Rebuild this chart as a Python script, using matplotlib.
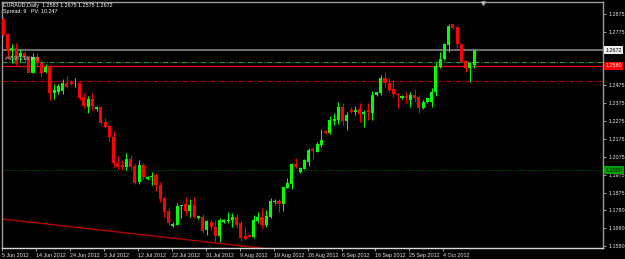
import matplotlib.pyplot as plt
import matplotlib.transforms as mtransforms

# === EURAUD Daily, Kerzen von links nach rechts ===
OPEN = [1.2847, 1.2763, 1.2673, 1.2685, 1.2640, 1.2657, 1.2636, 1.2546, 1.2636, 1.2602,
        1.2552, 1.2584, 1.2434, 1.2438, 1.2444, 1.2489, 1.2496, 1.2487, 1.2490, 1.2412,
        1.2356, 1.2399, 1.2343, 1.2354, 1.2272, 1.2248, 1.2188, 1.2042, 1.2029, 1.2017,
        1.2065, 1.2024, 1.1933, 1.2031, 1.1951, 1.1961, 1.1973, 1.1917, 1.1843, 1.1774,
        1.1690, 1.1693, 1.1800, 1.1811, 1.1774, 1.1805, 1.1733, 1.1740, 1.1665, 1.1712,
        1.1684, 1.1634, 1.1712, 1.1714, 1.1721, 1.1737, 1.1703, 1.1632, 1.1637, 1.1628,
        1.1716, 1.1740, 1.1693, 1.1740, 1.1821, 1.1830, 1.1811, 1.1902, 1.1923, 1.2035,
        1.1992, 1.2007, 1.2048, 1.2117, 1.2104, 1.2141, 1.2222, 1.2207, 1.2278, 1.2281,
        1.2352, 1.2278, 1.2337, 1.2328, 1.2341, 1.2315, 1.2337, 1.2319, 1.2421, 1.2431,
        1.2515, 1.2487, 1.2455, 1.2429, 1.2403, 1.2416, 1.2393, 1.2421, 1.2412, 1.2350,
        1.2381, 1.2381, 1.2440, 1.2580, 1.2623, 1.2701, 1.2817, 1.2802, 1.2705, 1.2612,
        1.2571, 1.2590]
HIGH = [1.2858, 1.2769, 1.2707, 1.2714, 1.2679, 1.2673, 1.2645, 1.2655, 1.2655, 1.2617,
        1.2593, 1.2589, 1.2483, 1.2483, 1.2511, 1.2528, 1.2505, 1.2517, 1.2496, 1.2434,
        1.2416, 1.2434, 1.2360, 1.2360, 1.2293, 1.2259, 1.2222, 1.2080, 1.2057, 1.2097,
        1.2085, 1.2035, 1.2057, 1.2039, 1.1968, 1.1990, 1.1985, 1.1936, 1.1852, 1.1789,
        1.1710, 1.1818, 1.1805, 1.1850, 1.1839, 1.1852, 1.1749, 1.1755, 1.1721, 1.1725,
        1.1721, 1.1733, 1.1725, 1.1766, 1.1762, 1.1755, 1.1718, 1.1688, 1.1643, 1.1749,
        1.1765, 1.1789, 1.1777, 1.1846, 1.1837, 1.1837, 1.1908, 1.1958, 1.2039, 1.2067,
        1.2017, 1.2063, 1.2123, 1.2129, 1.2160, 1.2229, 1.2225, 1.2304, 1.2322, 1.2384,
        1.2378, 1.2328, 1.2352, 1.2360, 1.2378, 1.2337, 1.2375, 1.2444, 1.2440, 1.2533,
        1.2549, 1.2515, 1.2505, 1.2431, 1.2421, 1.2440, 1.2437, 1.2455, 1.2421, 1.2393,
        1.2405, 1.2459, 1.2608, 1.2661, 1.2711, 1.2817, 1.2820, 1.2802, 1.2707, 1.2617,
        1.2608, 1.2675]
LOW = [1.2746, 1.2623, 1.2601, 1.2589, 1.2606, 1.2601, 1.2543, 1.2543, 1.2589, 1.2524,
       1.2545, 1.2393, 1.2399, 1.2427, 1.2427, 1.2461, 1.2477, 1.2468, 1.2393, 1.2349,
       1.2322, 1.2337, 1.2334, 1.2253, 1.2237, 1.2166, 1.2020, 1.2005, 1.2001, 1.2001,
       1.2001, 1.1923, 1.1923, 1.1949, 1.1945, 1.1917, 1.1886, 1.1824, 1.1737, 1.1693,
       1.1684, 1.1693, 1.1731, 1.1749, 1.1740, 1.1731, 1.1727, 1.1647, 1.1637, 1.1665,
       1.1600, 1.1600, 1.1703, 1.1703, 1.1684, 1.1677, 1.1606, 1.1609, 1.1625, 1.1619,
       1.1703, 1.1675, 1.1684, 1.1731, 1.1811, 1.1768, 1.1774, 1.1899, 1.1893, 1.2013,
       1.1986, 1.2005, 1.2024, 1.2061, 1.2101, 1.2129, 1.2203, 1.2203, 1.2253, 1.2259,
       1.2253, 1.2225, 1.2319, 1.2309, 1.2272, 1.2244, 1.2281, 1.2281, 1.2418, 1.2421,
       1.2468, 1.2440, 1.2412, 1.2347, 1.2399, 1.2375, 1.2356, 1.2384, 1.2319, 1.2343,
       1.2377, 1.2356, 1.2418, 1.2574, 1.2617, 1.2664, 1.2791, 1.2686, 1.2599, 1.2552,
       1.2496, 1.2575]
CLOSE = [1.2757, 1.2673, 1.2685, 1.2597, 1.2657, 1.2629, 1.2545, 1.2636, 1.2601, 1.2545,
         1.2580, 1.2434, 1.2449, 1.2472, 1.2489, 1.2468, 1.2483, 1.2490, 1.2406, 1.2360,
         1.2399, 1.2360, 1.2356, 1.2266, 1.2244, 1.2186, 1.2041, 1.2017, 1.2018, 1.2061,
         1.2017, 1.1930, 1.2029, 1.1964, 1.1964, 1.1970, 1.1917, 1.1839, 1.1768, 1.1706,
         1.1699, 1.1801, 1.1805, 1.1774, 1.1805, 1.1740, 1.1741, 1.1661, 1.1716, 1.1684,
         1.1634, 1.1721, 1.1721, 1.1721, 1.1740, 1.1693, 1.1619, 1.1615, 1.1628, 1.1721,
         1.1740, 1.1693, 1.1744, 1.1830, 1.1830, 1.1811, 1.1905, 1.1930, 1.2035, 1.2017,
         1.2013, 1.2057, 1.2113, 1.2108, 1.2147, 1.2169, 1.2207, 1.2281, 1.2285, 1.2356,
         1.2278, 1.2309, 1.2328, 1.2337, 1.2315, 1.2328, 1.2326, 1.2421, 1.2437, 1.2515,
         1.2487, 1.2449, 1.2425, 1.2421, 1.2416, 1.2403, 1.2421, 1.2403, 1.2347, 1.2384,
         1.2403, 1.2440, 1.2586, 1.2623, 1.2705, 1.2808, 1.2798, 1.2705, 1.2608, 1.2571,
         1.2602, 1.2672]

# Datumsachse: Balkenindex + Beschriftung
DATE_BARS = [0, 8, 16, 24, 32, 40, 48, 56, 64, 72, 80, 88, 96, 104]
DATE_LABELS = ["5 Jun 2012", "14 Jun 2012", "24 Jun 2012", "3 Jul 2012", "12 Jul 2012",
               "22 Jul 2012", "31 Jul 2012", "9 Aug 2012", "19 Aug 2012", "28 Aug 2012",
               "6 Sep 2012", "16 Sep 2012", "25 Sep 2012", "4 Oct 2012"]

# Preisachse
PRICE_TICKS = [1.2875, 1.2775, 1.2475, 1.2375, 1.2275, 1.2175, 1.2075, 1.1975,
               1.1875, 1.1775, 1.1675, 1.1575]
PRICE_LABELS = ["1.2875", "1.2775", "1.2475", "1.2375", "1.2275", "1.2175", "1.2075",
                "1.1975", "1.1875", "1.1780", "1.1680", "1.1580"]

# horizontale Linien
BID = 1.2672
ORDER_PRICE = 1.2606
RED_LEVEL = 1.2584
RED_LEVEL_TXT = "1.2580"
DASH_LEVEL = 1.2500
ROUND_LEVEL = 1.2000

# Trendlinie (Balken, Preis)
TREND_BARS = [-1, 62]
TREND_PRICES = [1.1729, 1.1561]

HEADER_1 = "EURAUD,Daily  1.2583 1.2675 1.2575 1.2672"
HEADER_2 = "Spread: 9   PV: 10.247"
ORDER_TXT = "#4597216 buy"

BULL = '#00ff00'
BEAR = '#ff0000'
FONT = 'Liberation Sans'
FS = 3.9

fig = plt.figure(figsize=(6.25, 2.59), dpi=100, facecolor='black')
ax = fig.add_axes([2 / 625, 11 / 259, 601 / 625, 246 / 259], facecolor='black')

# --- Kerzen ---
for i, (o, h, l, c) in enumerate(zip(OPEN, HIGH, LOW, CLOSE)):
    col = BULL if c >= o else BEAR
    ax.vlines(i, l, h, color=col, lw=0.75, zorder=3)
    ax.bar(i, max(abs(c - o), 0.0003), bottom=min(o, c), width=0.72,
           color=col, lw=0, zorder=3)

# --- Linien ---
ax.axhline(BID, color='#787878', lw=1.3, zorder=2)
ax.axhline(ORDER_PRICE, color='#1fa01f', lw=0.8, ls=(0, (4.5, 1.5, 1, 1.5)), zorder=2)
ax.axhline(RED_LEVEL, color='#ff0000', lw=0.9, zorder=2)
ax.axhline(DASH_LEVEL, color='#b40000', lw=0.8, ls=(0, (4.5, 1.5, 1, 1.5)), zorder=2)
ax.axhline(ROUND_LEVEL, color='#007000', lw=0.7, ls=(0, (1, 1.5)), zorder=2)
ax.plot(TREND_BARS, TREND_PRICES, color='#b00000', lw=1, zorder=2)

ax.text(0.3, ORDER_PRICE + 0.0004, ORDER_TXT, fontsize=FS, family=FONT,
        color='#d0d0d0', va='bottom', ha='left', zorder=4)

# --- Achsen ---
ax.set_xlim(-0.31, 141.4)
ax.set_ylim(1.15646, 1.29422)

ax.yaxis.tick_right()
ax.set_yticks(PRICE_TICKS)
ax.set_yticklabels(PRICE_LABELS, family=FONT)
ax.set_xticks([b - 0.25 for b in DATE_BARS])
ax.set_xticklabels(DATE_LABELS, family=FONT, ha='left')
ax.tick_params(axis='both', colors='#a0a0a0', labelcolor='#e6e6e6',
               labelsize=FS, length=2.5, width=0.7)
ax.tick_params(axis='y', pad=1.5)
ax.tick_params(axis='x', pad=1)

for s in ax.spines.values():
    s.set_color('#9a9a9a')
    s.set_linewidth(1)
ax.spines['bottom'].set_color('#d8d8d8')

# Preis-Kaestchen rechts
tr = mtransforms.blended_transform_factory(ax.transAxes, ax.transData)
for price, txt, fc, tc in [(BID, "1.2672", '#f0f0f0', 'black'),
                           (RED_LEVEL, RED_LEVEL_TXT, '#ff0000', 'white'),
                           (ROUND_LEVEL, "1.2000", '#00a000', 'black')]:
    ax.text(1.0 + 2.5 / 601, price, txt, transform=tr, fontsize=FS, family=FONT,
            color=tc, va='center', ha='left', clip_on=False, zorder=6,
            bbox=dict(boxstyle='square,pad=0.25', fc=fc, ec='none'))

# Chart-Shift Markierung oben
ax.plot(len(OPEN) + 1.1, 1.2938, marker='v', ms=2.5, color='#b0b0b0',
        clip_on=False, zorder=6)

# Kopfzeile
fig.text(3 / 625, 1 - 5 / 259, HEADER_1, fontsize=FS, family=FONT,
         color='white', va='center', ha='left')
fig.text(3 / 625, 1 - 11 / 259, HEADER_2, fontsize=FS, family=FONT,
         color='white', va='center', ha='left')

fig.savefig('out.png', dpi=100, facecolor='black')
